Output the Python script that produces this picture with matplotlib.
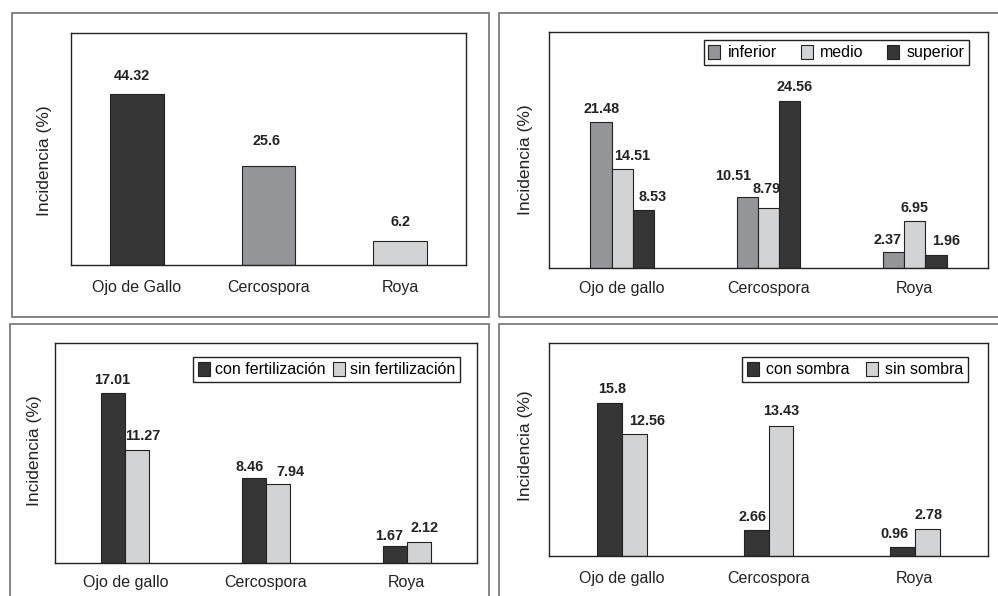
import numpy as np
import matplotlib
matplotlib.use('agg')
import matplotlib.pyplot as plt
from matplotlib.patches import Rectangle

plt.rcParams['font.family'] = ['Liberation Sans', 'DejaVu Sans']

# datos
enfermedades_a = ["Ojo de Gallo", "Cercospora", "Roya"]
incidencia_a = [44.32, 25.6, 6.2]

enfermedades = ["Ojo de gallo", "Cercospora", "Roya"]
estratos = ["inferior", "medio", "superior"]
inferior = [21.48, 10.51, 2.37]
medio = [14.51, 8.79, 6.95]
superior = [8.53, 24.56, 1.96]

fert_labels = ["con fertilización", "sin fertilización"]
con_fert = [17.01, 8.46, 1.67]
sin_fert = [11.27, 7.94, 2.12]

sombra_labels = ["con sombra", "sin sombra"]
con_sombra = [15.8, 2.66, 0.96]
sin_sombra = [12.56, 13.43, 2.78]

OSCURO = '#363636'
MEDIO = '#939598'
CLARO = '#d1d3d4'

W, H = 998, 596
fig = plt.figure(figsize=(W / 100, H / 100), dpi=100)


def px_axes(x0, y0, x1, y1):
    # coordenadas en pixeles (origen arriba-izquierda)
    return fig.add_axes([x0 / W, 1 - y1 / H, (x1 - x0) / W, (y1 - y0) / H])


def marco(x0, y0, x1, y1):
    fig.patches.append(Rectangle((x0 / W, 1 - y1 / H), (x1 - x0) / W, (y1 - y0) / H,
                                 transform=fig.transFigure, fill=False,
                                 edgecolor='#707070', linewidth=1.2))


def estilo(ax, cats, ymax, tickpad, ylab_x, ylab_y):
    ax.set_xlim(-0.5, 2.5)
    ax.set_ylim(0, ymax)
    ax.set_xticks(np.arange(len(cats)))
    ax.set_xticklabels(cats, fontsize=11.5, color='#222222')
    ax.set_yticks([])
    ax.tick_params(axis='x', length=0, pad=tickpad)
    for s in ax.spines.values():
        s.set_color('#222222')
        s.set_linewidth(1.0)
    ax.set_ylabel('Incidencia (%)', fontsize=12.5, color='#222222')
    ax.yaxis.set_label_coords(ylab_x, ylab_y)


def etiqueta(ax, b, v, dx, dy):
    ax.annotate(str(v), (b.get_x() + b.get_width() / 2, b.get_height()),
                xytext=(dx, dy), textcoords='offset pixels', ha='center',
                va='center', fontsize=10.4, fontweight='bold', color='#222222')


def panel(ax, cats, series, colores, ancho, nudges):
    x = np.arange(len(cats))
    n = len(series)
    k = 0
    for i, vals in enumerate(series):
        pos = x + (i - (n - 1) / 2) * ancho
        bars = ax.bar(pos, vals, ancho, color=colores[i], edgecolor='#222222', linewidth=0.8)
        for j, b in enumerate(bars):
            dx, dy = nudges[k]
            k += 1
            etiqueta(ax, b, vals[j], dx, dy)


def leyenda(ax, labels, anchor, ncol, tpad, cspace):
    leg = ax.legend(labels, loc='upper right', bbox_to_anchor=anchor, ncol=ncol,
                    fontsize=11.5, handlelength=0.75, handleheight=1.0, handletextpad=tpad,
                    columnspacing=cspace, borderpad=0.3, borderaxespad=0, fancybox=False,
                    edgecolor='#222222', framealpha=1)
    leg.get_frame().set_linewidth(1.0)


# marcos exteriores
marco(12, 13, 489, 317)
marco(499, 13, 1010, 317)
marco(10, 324, 489, 610)
marco(499, 324, 1010, 610)

# panel 1
ax1 = px_axes(71, 33, 466, 265)
bars = ax1.bar(np.arange(3), incidencia_a, 0.41, color=[OSCURO, MEDIO, CLARO],
               edgecolor='#222222', linewidth=0.8)
for b, v, (dx, dy) in zip(bars, incidencia_a, [(-5, 18), (-2, 25), (0, 19)]):
    etiqueta(ax1, b, v, dx, dy)
estilo(ax1, enfermedades_a, 60, 11, -0.048, 0.45)

# panel 2
ax2 = px_axes(549, 32, 988, 268)
panel(ax2, enfermedades, [inferior, medio, superior], [MEDIO, CLARO, OSCURO], 0.145,
      [(1, 13), (-14, 21), (-6, 12), (10, 13), (-2, 19), (0, 13), (9, 13), (5, 14), (10, 14)])
estilo(ax2, enfermedades, 34.7, 9, -0.036, 0.46)
leyenda(ax2, estratos, (0.957, 0.966), 3, 0.45, 1.5)

# panel 3
ax3 = px_axes(55, 343, 477, 563)
panel(ax3, enfermedades, [con_fert, sin_fert], [OSCURO, CLARO], 0.17,
      [(-1, 13), (-4, 11), (-6, 10), (5, 14), (12, 12), (6, 14)])
estilo(ax3, enfermedades, 22, 9, -0.031, 0.51)
leyenda(ax3, fert_labels, (0.96, 0.936), 2, 0.3, 0.5)

# panel 4
ax4 = px_axes(549, 343, 988, 556)
panel(ax4, enfermedades, [con_sombra, sin_sombra], [OSCURO, CLARO], 0.17,
      [(2, 14), (-4, 13), (-8, 13), (13, 13), (0, 15), (1, 14)])
estilo(ax4, enfermedades, 22, 10.5, -0.036, 0.52)
leyenda(ax4, sombra_labels, (0.954, 0.934), 2, 0.45, 1.0)

fig.savefig('out.png', dpi=100)
